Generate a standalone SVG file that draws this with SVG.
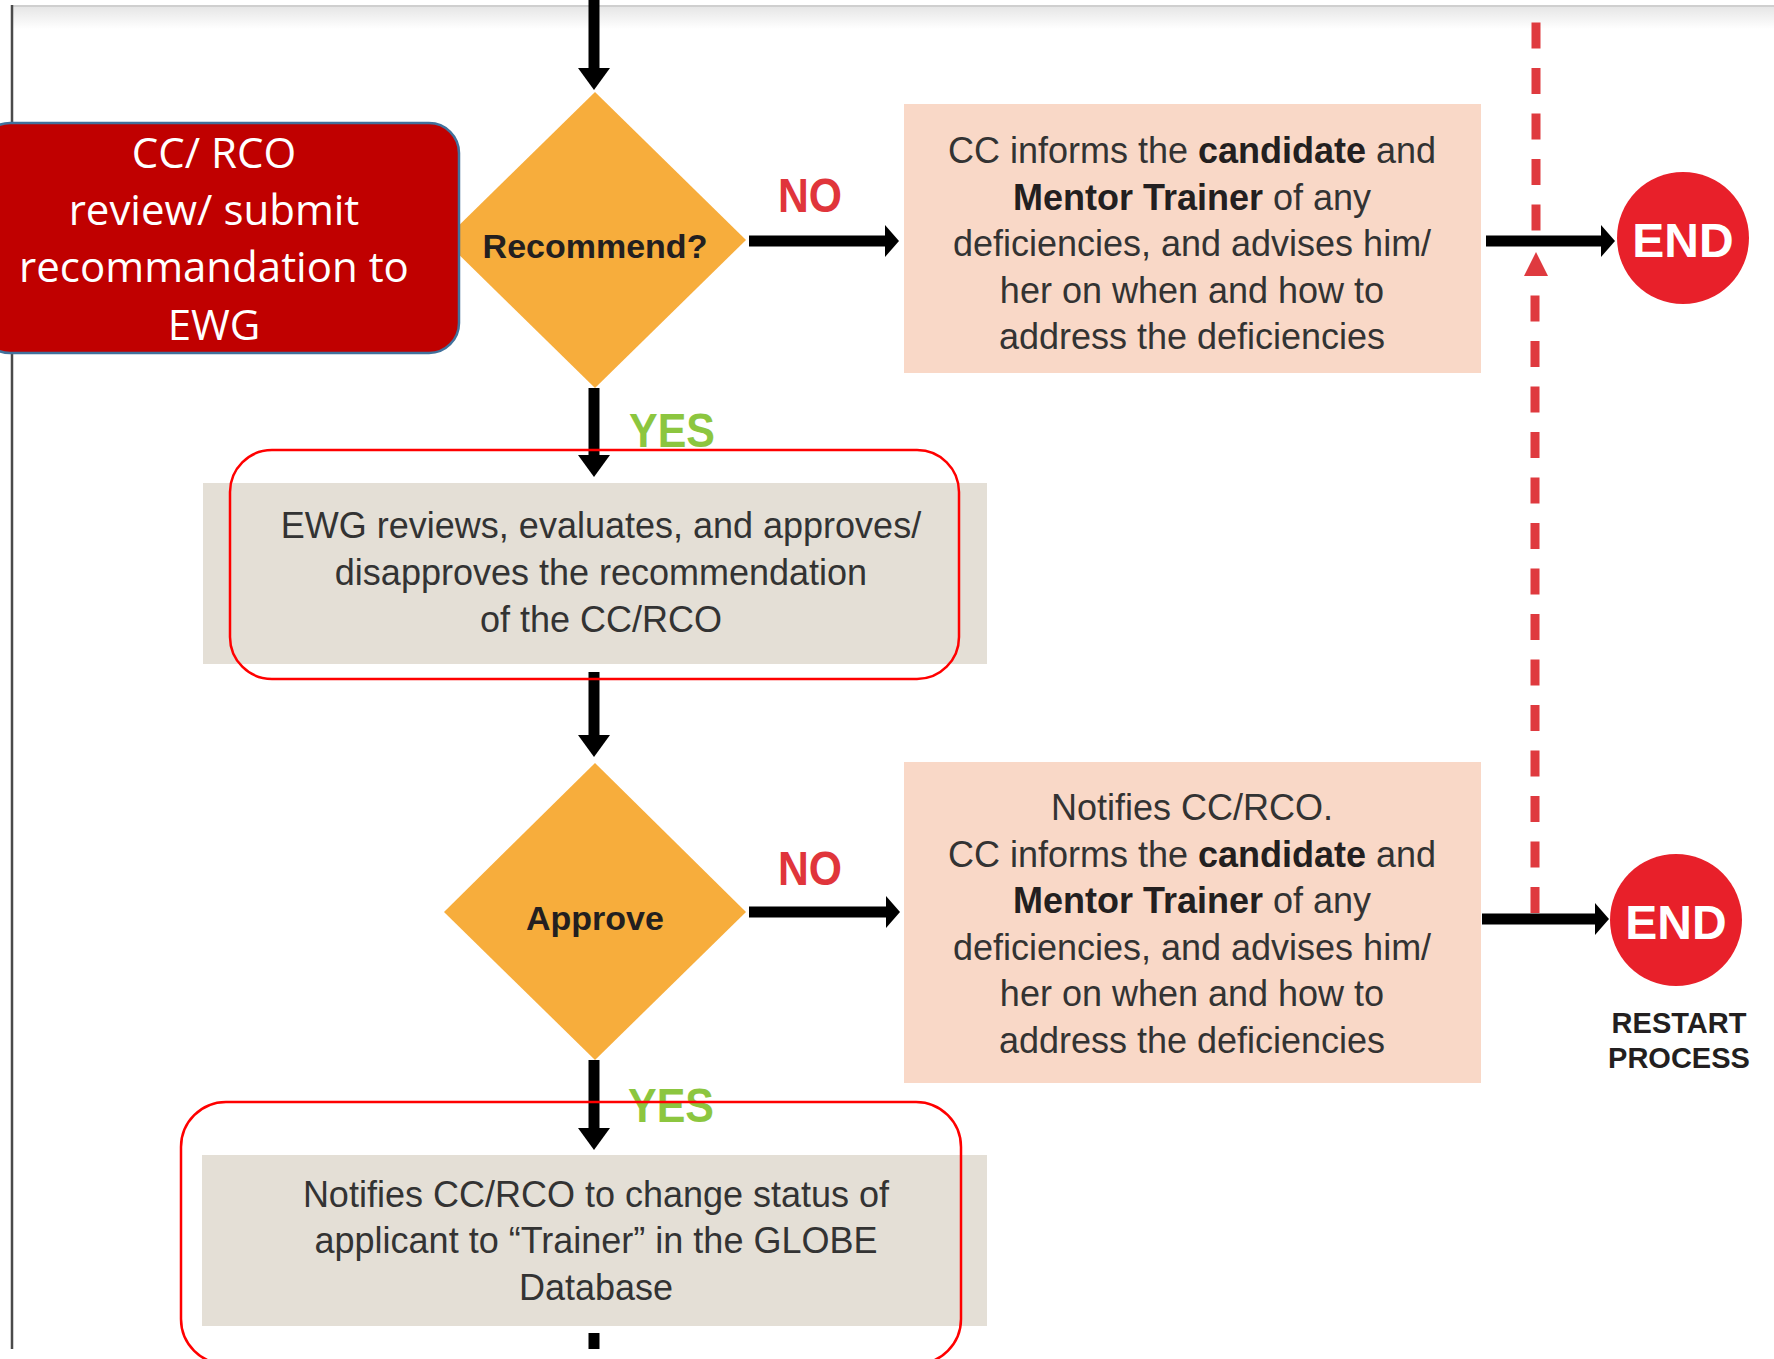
<svg xmlns="http://www.w3.org/2000/svg" width="1774" height="1359" viewBox="0 0 1774 1359">
  <defs>
    <linearGradient id="topShade" x1="0" y1="0" x2="0" y2="1">
      <stop offset="0" stop-color="#e6e6e6"/>
      <stop offset="1" stop-color="#ffffff"/>
    </linearGradient>
    <marker id="headV" markerUnits="userSpaceOnUse" markerWidth="22" markerHeight="32" refX="0" refY="16" orient="auto" viewBox="0 0 22 32">
      <path d="M0,0 L22,16 L0,32 Z" fill="#000"/>
    </marker>
    <marker id="headH" markerUnits="userSpaceOnUse" markerWidth="14" markerHeight="32" refX="0" refY="16" orient="auto" viewBox="0 0 14 32">
      <path d="M0,0 L14,16 L0,32 Z" fill="#000"/>
    </marker>
  </defs>
  <style>
    .body { font-family: "Liberation Sans", Arial, sans-serif; font-size: 36px; fill: #333333; text-anchor: middle; }
    .b { font-weight: bold; fill: #231f20; }
    .dlabel { font-family: "Liberation Sans", Arial, sans-serif; font-size: 34px; font-weight: bold; fill: #231f20; text-anchor: middle; }
    .no { font-family: "Liberation Sans", Arial, sans-serif; font-size: 49px; font-weight: bold; fill: #e0353b; }
    .yes { font-family: "Liberation Sans", Arial, sans-serif; font-size: 49px; font-weight: bold; fill: #8cc63f; }
    .endt { font-family: "Liberation Sans", Arial, sans-serif; font-size: 48px; font-weight: bold; fill: #ffffff; text-anchor: middle; }
    .restart { font-family: "Liberation Sans", Arial, sans-serif; font-size: 29px; font-weight: bold; fill: #231f20; text-anchor: middle; }
    .redbox { font-family: "Open Sans", "Liberation Sans", sans-serif; font-size: 42px; fill: #ffffff; text-anchor: middle; }
    .conn { stroke: #000; stroke-width: 11; fill: none; }
    .dash { stroke: #df3a3f; stroke-width: 9; fill: none; stroke-dasharray: 26 19.5; }
    .diamond { fill: #f7ad3c; }
    .pink { fill: #f9d8c7; }
    .grey { fill: #e4dfd6; }
    .outline { fill: none; stroke: #ff0000; stroke-width: 2.5; }
    .endc { fill: #e8202a; }
  </style>

  <rect x="0" y="0" width="1774" height="1359" fill="#ffffff"/>
  <!-- page edge -->
  <rect x="11" y="7" width="1763" height="22" fill="url(#topShade)"/>
  <line x1="11" y1="6" x2="1774" y2="6" stroke="#cfcfcf" stroke-width="2"/>
  <line x1="12" y1="5" x2="12" y2="1349" stroke="#4a4a4a" stroke-width="2.5"/>

  <g id="connectors">
    <line class="conn" x1="594" y1="0" x2="594" y2="68" marker-end="url(#headV)"/>
    <line class="conn" x1="594" y1="388" x2="594" y2="455" marker-end="url(#headV)"/>
    <line class="conn" x1="594" y1="672" x2="594" y2="735" marker-end="url(#headV)"/>
    <line class="conn" x1="594" y1="1060" x2="594" y2="1128" marker-end="url(#headV)"/>
    <line class="conn" x1="594" y1="1333" x2="594" y2="1349"/>
    <line class="conn" x1="749" y1="241" x2="885" y2="241" marker-end="url(#headH)"/>
    <line class="conn" x1="749" y1="912" x2="886" y2="912" marker-end="url(#headH)"/>
    <line class="dash" x1="1535" y1="913" x2="1535" y2="276"/>
    <line class="dash" x1="1536" y1="230.5" x2="1536" y2="22"/>
    <polygon points="1536,252 1548,276 1524,276" fill="#df3a3f"/>
    <line class="conn" x1="1486" y1="241" x2="1601" y2="241" marker-end="url(#headH)"/>
    <line class="conn" x1="1482" y1="919" x2="1595" y2="919" marker-end="url(#headH)"/>
  </g>

  <g id="recommend">
    <polygon class="diamond" points="595,92 746,240 595,388 444,240"/>
    <text class="dlabel" x="595" y="258">Recommend?</text>
  </g>

  <g id="ccrco-review">
    <rect x="-20" y="123" width="479" height="230" rx="30" ry="30" fill="#c00000" stroke="#41719c" stroke-width="2.5"/>
    <text class="redbox" x="214" y="168">CC/ RCO</text>
    <text class="redbox" x="214" y="225">review/ submit</text>
    <text class="redbox" x="214" y="282">recommandation to</text>
    <text class="redbox" x="214" y="340">EWG</text>
  </g>

  <g id="label-no1">
    <text class="no" x="778" y="212" textLength="64" lengthAdjust="spacingAndGlyphs">NO</text>
  </g>

  <g id="inform1">
    <rect class="pink" x="904" y="104" width="577" height="269"/>
    <text class="body" x="1192" y="163">CC informs the <tspan class="b">candidate</tspan> and</text>
    <text class="body" x="1192" y="210"><tspan class="b">Mentor Trainer</tspan> of any</text>
    <text class="body" x="1192" y="256">deficiencies, and advises him/</text>
    <text class="body" x="1192" y="303">her on when and how to</text>
    <text class="body" x="1192" y="349">address the deficiencies</text>
  </g>

  <g id="end1">
    <circle class="endc" cx="1683" cy="238" r="66"/>
    <text class="endt" x="1683" y="257">END</text>
  </g>

  <g id="label-yes1">
    <text class="yes" x="629" y="447" textLength="86" lengthAdjust="spacingAndGlyphs">YES</text>
  </g>

  <g id="ewg-review">
    <rect class="grey" x="203" y="483" width="784" height="181"/>
    <text class="body" x="601" y="538">EWG reviews, evaluates, and approves/</text>
    <text class="body" x="601" y="585">disapproves the recommendation</text>
    <text class="body" x="601" y="632">of the CC/RCO</text>
    <rect class="outline" x="230" y="450" width="729" height="229" rx="42" ry="42"/>
  </g>

  <g id="approve">
    <polygon class="diamond" points="595,763 746,912 595,1060 444,912"/>
    <text class="dlabel" x="595" y="930">Approve</text>
  </g>

  <g id="label-no2">
    <text class="no" x="778" y="885" textLength="64" lengthAdjust="spacingAndGlyphs">NO</text>
  </g>

  <g id="inform2">
    <rect class="pink" x="904" y="762" width="577" height="321"/>
    <text class="body" x="1192" y="820">Notifies CC/RCO.</text>
    <text class="body" x="1192" y="867">CC informs the <tspan class="b">candidate</tspan> and</text>
    <text class="body" x="1192" y="913"><tspan class="b">Mentor Trainer</tspan> of any</text>
    <text class="body" x="1192" y="960">deficiencies, and advises him/</text>
    <text class="body" x="1192" y="1006">her on when and how to</text>
    <text class="body" x="1192" y="1053">address the deficiencies</text>
  </g>

  <g id="end2">
    <circle class="endc" cx="1676" cy="920" r="66"/>
    <text class="endt" x="1676" y="939">END</text>
    <text class="restart" x="1679" y="1033">RESTART</text>
    <text class="restart" x="1679" y="1068">PROCESS</text>
  </g>

  <g id="label-yes2">
    <text class="yes" x="628" y="1122" textLength="86" lengthAdjust="spacingAndGlyphs">YES</text>
  </g>

  <g id="notify-status">
    <rect class="grey" x="202" y="1155" width="785" height="171"/>
    <text class="body" x="596" y="1207">Notifies CC/RCO to change status of</text>
    <text class="body" x="596" y="1253">applicant to “Trainer” in the GLOBE</text>
    <text class="body" x="596" y="1300">Database</text>
    <rect class="outline" x="181" y="1102" width="780" height="262" rx="45" ry="45"/>
  </g>
</svg>
